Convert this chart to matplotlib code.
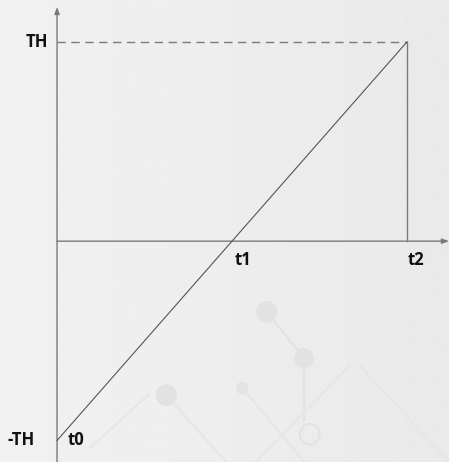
import numpy as np
import matplotlib
matplotlib.use("Agg")
import matplotlib.pyplot as plt
from matplotlib.patches import Circle

# data
t_points = [0.0, 1.0, 2.0]          # t0, t1, t2
signal = [-1.0, 0.0, 1.0]           # -TH .. TH
t_labels = ["t0", "t1", "t2"]
y_labels = ["TH", "-TH"]
TH = 1.0

fig = plt.figure(figsize=(4.49, 4.62), dpi=100)
ax = fig.add_axes([0, 0, 1, 1])
ax.set_xlim(-0.326, 2.24)
ax.set_ylim(-1.108, 1.21)
ax.axis("off")

# background gradient
grad = np.linspace(0, 1, 256)
X, Y = np.meshgrid(grad, grad)
bg = 0.945 - 0.03 * X
ax.imshow(bg, extent=[0, 1, 0, 1], transform=ax.transAxes, cmap="gray",
          vmin=0, vmax=1, aspect="auto", zorder=0)

# faint decorative watermark
wm = "#e2e2e2"
wl = "#e6e6e6"
tr = ax.transAxes
for (cx, cy, r) in [(0.594, 0.325, 0.022), (0.677, 0.225, 0.020), (0.37, 0.145, 0.022), (0.54, 0.16, 0.012)]:
    ax.add_patch(Circle((cx, cy), r, transform=tr, color=wm, zorder=1))
ax.plot([0.594, 0.677], [0.325, 0.225], color=wm, lw=1.5, transform=tr, zorder=1)
ax.plot([0.677, 0.677], [0.225, 0.09], color=wm, lw=1.5, transform=tr, zorder=1)
ax.plot([0.37, 0.55], [0.145, -0.05], color=wl, lw=1.5, transform=tr, zorder=1)
ax.plot([0.54, 0.72], [0.16, -0.05], color=wl, lw=1.5, transform=tr, zorder=1)
ax.plot([0.33, 0.2], [0.145, 0.03], color=wl, lw=1.5, transform=tr, zorder=1)
ax.add_patch(Circle((0.69, 0.06), 0.022, transform=tr, fill=False, ec=wm, lw=1.5, zorder=1))
ax.plot([0.55, 0.78], [-0.02, 0.21], color=wl, lw=1.5, transform=tr, zorder=1)
ax.plot([0.80, 1.0], [0.21, 0.0], color=wl, lw=1.5, transform=tr, zorder=1)

axis_c = "#7a7a7a"
# axes with arrows
ax.annotate("", xy=(2.24, 0), xytext=(0, 0),
            arrowprops=dict(arrowstyle="-|>,head_length=0.4,head_width=0.15", color=axis_c, lw=1.0,
                            shrinkA=0, shrinkB=0),
            zorder=3)
ax.annotate("", xy=(0, 1.175), xytext=(0, -1.108),
            arrowprops=dict(arrowstyle="-|>,head_length=0.4,head_width=0.15", color=axis_c, lw=1.0,
                            shrinkA=0, shrinkB=0),
            zorder=3)

# dashed TH line and vertical at t2
ax.plot([0, t_points[2]], [TH, TH], color=axis_c, lw=1.0, ls=(0, (6, 4)), zorder=3)
ax.plot([t_points[2], t_points[2]], [0, TH], color=axis_c, lw=1.0, zorder=3)

# ramp
ax.plot(t_points, signal, color="#555555", lw=0.8, zorder=4)

fp = dict(fontsize=12, fontweight="bold", family=["Open Sans", "DejaVu Sans"], color="#111111")
ax.text(-0.115, TH, y_labels[0], ha="center", va="center", **fp)
ax.text(-0.205, -TH, y_labels[1], ha="center", va="center", **fp)
ax.text(0.11, -1.0, t_labels[0], ha="center", va="center", **fp)
ax.text(1.06, -0.095, t_labels[1], ha="center", va="center", **fp)
ax.text(2.05, -0.095, t_labels[2], ha="center", va="center", **fp)

fig.savefig("out.png", dpi=100)
